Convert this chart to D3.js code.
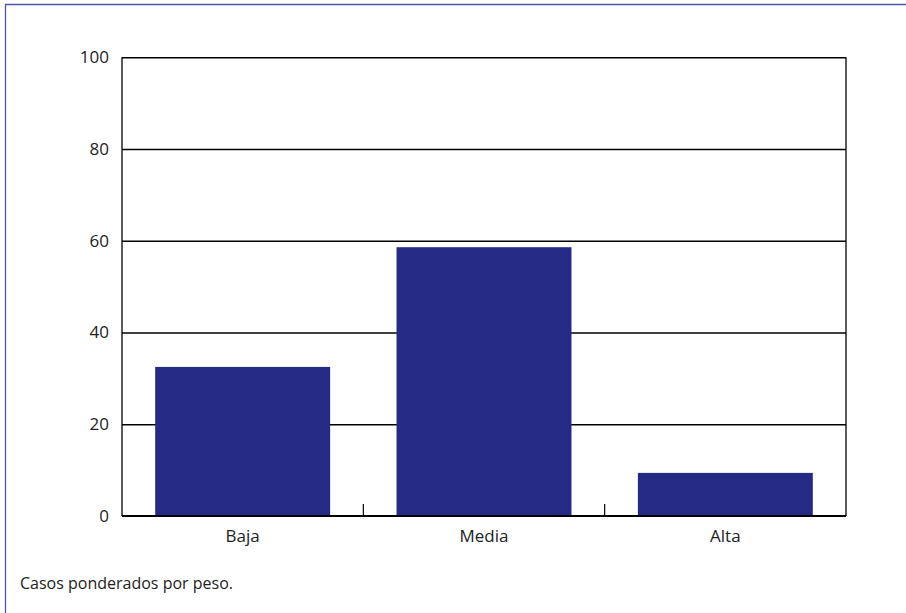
<!DOCTYPE html>
<html>
<head>
<meta charset="utf-8">
<script src="https://cdn.jsdelivr.net/npm/d3@7"></script>
<style>
  html, body { margin: 0; padding: 0; background: #fff; }
  svg { display: block; }
  text { font-family: "Open Sans", sans-serif; fill: #222; }
</style>
</head>
<body>
<svg id="chart" width="906" height="613"></svg>
<script>
const categories = ["Baja", "Media", "Alta"];
const values = [32.5, 58.6, 9.4];
const yTicks = [0, 20, 40, 60, 80, 100];
const note = "Casos ponderados por peso.";

const svg = d3.select("#chart");
const W = 906, H = 613;
const m = { left: 122, right: 846, top: 57.3, bottom: 516 };
const FONT = "'Open Sans', sans-serif";

// frame
svg.append("line").attr("x1", 5).attr("x2", W).attr("y1", 4.5).attr("y2", 4.5)
  .attr("stroke", "#4c56a6").attr("stroke-width", 1.3);
svg.append("line").attr("x1", 5.5).attr("x2", 5.5).attr("y1", 4).attr("y2", H)
  .attr("stroke", "#4c56a6").attr("stroke-width", 1.3);

const x = d3.scaleBand().domain(categories).range([m.left, m.right])
  .paddingInner(0.275).paddingOuter(0.1375);
const y = d3.scaleLinear().domain([0, 100]).range([m.bottom, m.top]);

// gridlines
const grid = d3.axisLeft(y).tickValues(yTicks.filter(d => d > 0))
  .tickSize(-(m.right - m.left)).tickFormat("");
svg.append("g").attr("transform", `translate(${m.left},0)`).call(grid)
  .call(g => g.select(".domain").remove())
  .call(g => g.selectAll("line").attr("stroke", "#000").attr("stroke-width", 1.6));

// bars
svg.append("g").selectAll("rect").data(values).join("rect")
  .attr("x", (d, i) => x(categories[i]))
  .attr("width", x.bandwidth())
  .attr("y", d => y(d))
  .attr("height", d => y(0) - y(d))
  .attr("fill", "#252b84");

// left axis line and right line
svg.append("line").attr("x1", m.left).attr("x2", m.left).attr("y1", m.top).attr("y2", m.bottom)
  .attr("stroke", "#000").attr("stroke-width", 1.3);
svg.append("line").attr("x1", m.right).attr("x2", m.right).attr("y1", m.top).attr("y2", m.bottom)
  .attr("stroke", "#000").attr("stroke-width", 1.3);

// y labels
const yAxis = d3.axisLeft(y).tickValues(yTicks).tickSize(0).tickPadding(13);
svg.append("g").attr("transform", `translate(${m.left},0)`).call(yAxis)
  .call(g => g.select(".domain").remove())
  .call(g => g.selectAll("text").style("font-size", "17px").style("font-family", FONT).attr("fill", "#2a2a2a"));

// x axis
const xAxis = d3.axisBottom(x).tickSize(0).tickPadding(14);
svg.append("g").attr("transform", `translate(0,${m.bottom})`).call(xAxis)
  .call(g => g.select(".domain").remove())
  .call(g => g.selectAll("text").style("font-size", "17px").style("font-family", FONT).attr("fill", "#2a2a2a"));

// bottom baseline
svg.append("line").attr("x1", m.left).attr("x2", m.right).attr("y1", m.bottom).attr("y2", m.bottom)
  .attr("stroke", "#000").attr("stroke-width", 1.8);

// category separator ticks (inside, pointing up)
const seps = categories.slice(1).map(c => x(c) - x.step() * x.paddingInner() / 2);
svg.append("g").selectAll("line").data(seps).join("line")
  .attr("x1", d => d).attr("x2", d => d)
  .attr("y1", m.bottom - 12).attr("y2", m.bottom)
  .attr("stroke", "#000").attr("stroke-width", 1.2);

// note
svg.append("text").attr("x", 20).attr("y", 589).text(note)
  .style("font-size", "16px").style("font-family", FONT).attr("fill", "#2a2a2a");
</script>
</body>
</html>
